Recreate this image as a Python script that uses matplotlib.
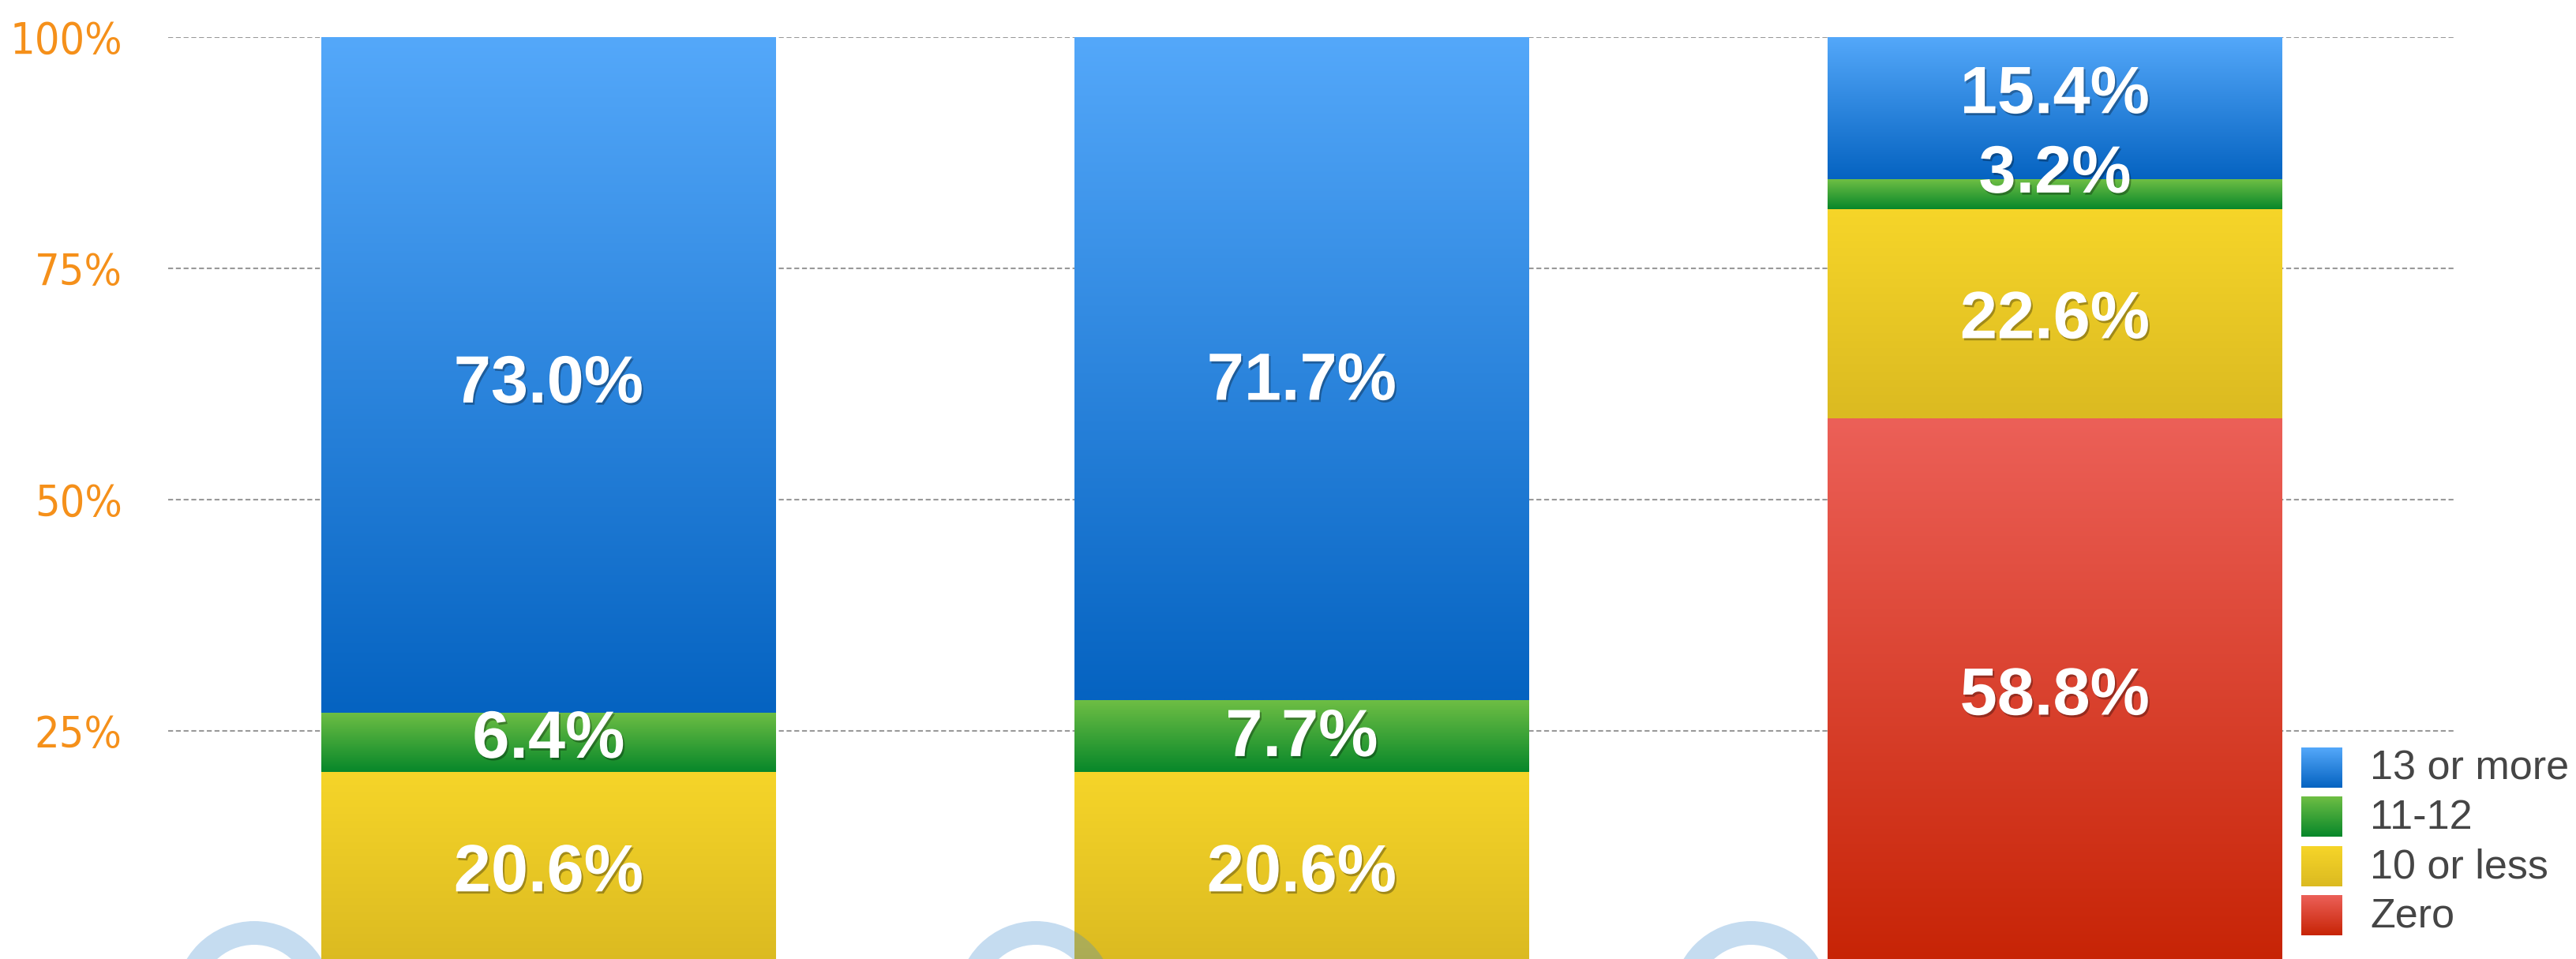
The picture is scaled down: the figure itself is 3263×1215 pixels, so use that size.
import numpy as np
import matplotlib
matplotlib.use("Agg")
import matplotlib.pyplot as plt
from matplotlib import font_manager as fm
from matplotlib import patheffects as pe
from matplotlib.patches import Annulus
from matplotlib.colors import to_rgb

# ---------------- data ----------------
groups = ["Group 1", "Group 2", "Group 3"]
series_names = ["Zero", "10 or less", "11-12", "13 or more"]
zero = [0.0, 0.0, 58.8]
ten_or_less = [20.6, 20.6, 22.6]
eleven_twelve = [6.4, 7.7, 3.2]
thirteen_or_more = [73.0, 71.7, 15.4]
ytick_values = [25, 50, 75, 100]
ytick_labels = ["25%", "50%", "75%", "100%"]

# ---------------- style ----------------
W, H, DPI = 3263, 1215, 100
grad_colors = {
    "Zero": ("#EC6058", "#C72406"),
    "10 or less": ("#F6D529", "#DBBA21"),
    "11-12": ("#6EBE44", "#07872A"),
    "13 or more": ("#54A8FA", "#0563C1"),
}
# label nudges (points) per series per bar, for readability
label_nudge = {
    "Zero": [0, 0, 0],
    "10 or less": [0, 0, 0],
    "11-12": [8, 4, 24],
    "13 or more": [-3, -6, 18],
}

entries = fm.fontManager.ttflist
available = {f.name for f in entries}
def pick(*names):
    for n in names:
        if n in available:
            return n
    return "DejaVu Sans"

bold_font = pick("Liberation Sans", "Arimo", "DejaVu Sans")
legend_font = pick("Liberation Sans", "Arimo", "DejaVu Sans")

# tick font: prefer a narrow / condensed face
if "Liberation Sans Narrow" in available:
    tick_props = dict(family="Liberation Sans Narrow", fontweight="normal", fontsize=46)
else:
    cond = [f for f in entries if f.stretch in ("condensed", "semi-condensed")
            and "Mono" not in f.name and "Serif" not in f.name]
    if cond:
        tick_props = dict(family=cond[0].name, fontstretch=cond[0].stretch,
                          fontweight="normal", fontsize=40)
    else:
        tick_props = dict(family=pick("Roboto", "Open Sans"), fontweight="normal", fontsize=40)

def gradient(top, bottom, n=256):
    t = np.linspace(0, 1, n)[:, None]
    c0 = np.array(to_rgb(top)); c1 = np.array(to_rgb(bottom))
    return (c0 * (1 - t) + c1 * t)[:, None, :]

fig = plt.figure(figsize=(W / DPI, H / DPI), dpi=DPI)
ax_left = 213 / W
ax_right = 3110 / W
y100 = 1 - 47 / H
y0 = 1 - 1219 / H
ax = fig.add_axes([ax_left, y0, ax_right - ax_left, y100 - y0])

x = np.arange(len(groups))
width = 0.603
series_vals = {
    "Zero": zero,
    "10 or less": ten_or_less,
    "11-12": eleven_twelve,
    "13 or more": thirteen_or_more,
}
bottom = np.zeros(len(groups))
shadow = [pe.SimplePatchShadow(offset=(1.5, -2.0), shadow_rgbFace="black", alpha=0.3), pe.Normal()]
for name in series_names:
    vals = np.array(series_vals[name])
    bars = ax.bar(x, vals, width, bottom=bottom, color="none", edgecolor="none", zorder=2)
    top_c, bot_c = grad_colors[name]
    for i, rect in enumerate(bars):
        if vals[i] <= 0:
            continue
        x0, yb = rect.get_x(), rect.get_y()
        w, h = rect.get_width(), rect.get_height()
        ax.imshow(gradient(top_c, bot_c), extent=[x0, x0 + w, yb, yb + h],
                  aspect="auto", zorder=2, interpolation="bilinear")
        ax.annotate(f"{vals[i]:.1f}%", (x0 + w / 2, yb + h / 2),
                    xytext=(0, -6.5 + label_nudge[name][i]), textcoords="offset points",
                    ha="center", va="center", fontsize=61, fontweight="bold",
                    family=bold_font, color="white", zorder=5, path_effects=shadow)
    bottom = bottom + vals

unit = 954.0
ax.set_xlim(-(695 - 213) / unit, (3110 - 695) / unit)
ax.set_ylim(0, 100)
ax.set_yticks(ytick_values)
ax.set_yticklabels(ytick_labels)
for lbl in ax.get_yticklabels():
    lbl.set_family(tick_props["family"])
    lbl.set_fontweight(tick_props["fontweight"])
    lbl.set_fontsize(tick_props["fontsize"])
    if "fontstretch" in tick_props:
        lbl.set_fontstretch(tick_props["fontstretch"])
    lbl.set_color("#F5901A")
ax.tick_params(axis="y", length=0, pad=42)
ax.set_xticks([])
for s in ax.spines.values():
    s.set_visible(False)
ax.yaxis.grid(True, color="#999999", linestyle=(0, (3, 1.7)), linewidth=1.5, zorder=0)
ax.set_axisbelow(True)
ax.patch.set_alpha(0)

# overlay: watermark rings and legend
ov = fig.add_axes([0, 0, 1, 1], zorder=10)
ov.set_axis_off()
ov.patch.set_alpha(0)
for cx in [322, 1312, 2218]:
    ov.add_patch(Annulus((cx, 1267), r=100, width=30, facecolor="#3F8BD0",
                         edgecolor="none", alpha=0.3))
legend_order = ["13 or more", "11-12", "10 or less", "Zero"]
for k, name in enumerate(legend_order):
    top = 947 + k * 62.3
    top_c, bot_c = grad_colors[name]
    ov.imshow(gradient(top_c, bot_c), extent=[2915, 2967, top + 51, top],
              aspect="auto", interpolation="bilinear")
    ov.text(3002, top + 27, name, ha="left", va="center", fontsize=37.5,
            family=legend_font, color="#454545")
ov.set_xlim(0, W)
ov.set_ylim(H, 0)

fig.savefig("out.png", dpi=DPI)
